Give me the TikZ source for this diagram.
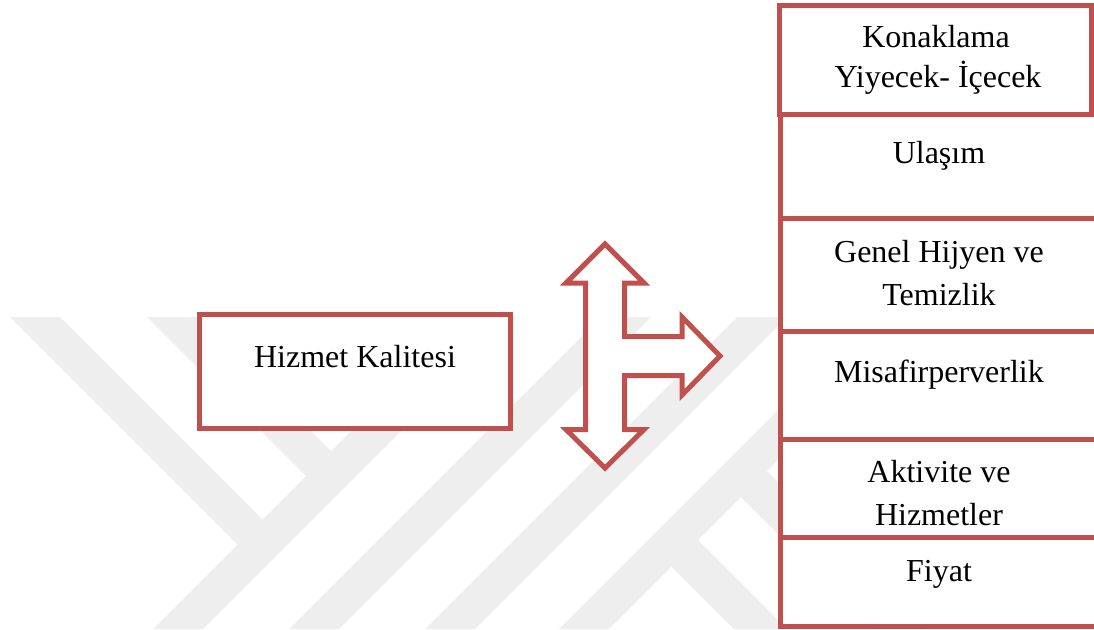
\documentclass[tikz,border=0pt]{standalone}
\usepackage{fontspec}
\setmainfont{Liberation Serif}
\usetikzlibrary{fit}
\definecolor{accred}{HTML}{C0504D}
\definecolor{wmgrey}{HTML}{EEEEEE}
\begin{document}
\begin{tikzpicture}[x=0.5pt,y=-0.5pt,
  box/.style={draw=accred, line width=2.5pt, fill=white, inner sep=0pt},
  lbl/.style={font=\fontsize{16}{20}\selectfont, anchor=base, inner sep=0pt},
  wm/.style={fill=wmgrey, draw=none},
]
\useasboundingbox (0,0) rectangle (1094,629);
\clip (0,0) rectangle (1094,629);
% watermark (faint background logo)
\begin{scope}
\clip (0,317) rectangle (1094,629);
\fill[wm] (10,317) -- (60,317) -- (262.5,519.5) -- (237.5,544.5) -- cycle;
\fill[wm] (147,317) -- (197,317) -- (331,451) -- (306,476) -- cycle;
\fill[wm] (465,317) -- (515,317) -- (203,629) -- (153,629) -- cycle;
\fill[wm] (601,317) -- (651,317) -- (339,629) -- (289,629) -- cycle;
\fill[wm] (737,317) -- (787,317) -- (475,629) -- (425,629) -- cycle;
\fill[wm] (871,317) -- (921,317) -- (609,629) -- (559,629) -- cycle;
\fill[wm] (671.5,566.5) -- (698,540) -- (787,629) -- (734,629) -- cycle;
\fill[wm] (741,497) -- (767,471) -- (925,629) -- (873,629) -- cycle;
\end{scope}
% left box
\coordinate (hk1) at (199.2,314.2);
\coordinate (hk2) at (510.8,428.2);
\node[box, fit=(hk1)(hk2)] (hk) {};
\node[lbl] (hkt) at (355,367) {Hizmet Kalitesi};
% arrow shape
\draw[accred, line width=2.5pt, fill=white, line join=miter]
  (605,244) -- (566,283) -- (585.5,283) -- (585.5,429.5) -- (566,429.5)
  -- (605,468) -- (644,429.5) -- (624.5,429.5) -- (624.5,375.5) -- (682,375.5)
  -- (682,395) -- (720,356) -- (682,317) -- (682,336.5) -- (624.5,336.5)
  -- (624.5,283) -- (644,283) -- cycle;
% right stack
\coordinate (u1) at (780.5,114);   \coordinate (u2) at (1200,218);
\coordinate (g1) at (780.5,218);   \coordinate (g2) at (1200,331.5);
\coordinate (m1) at (780.5,331.5); \coordinate (m2) at (1200,439);
\coordinate (a1) at (780.5,439);   \coordinate (a2) at (1200,537);
\coordinate (f1) at (780.5,537);   \coordinate (f2) at (1200,626);
\coordinate (k1) at (779,5);       \coordinate (k2) at (1091.5,114);
\node[box, fit=(u1)(u2)] (ul) {};
\node[box, fit=(g1)(g2)] (gh) {};
\node[box, fit=(m1)(m2)] (mi) {};
\node[box, fit=(a1)(a2)] (ak) {};
\node[box, fit=(f1)(f2)] (fi) {};
\node[box, fit=(k1)(k2)] (ko) {};
\node[lbl] (kot1) at (936,47) {Konaklama};
\node[lbl] (kot2) at (938,87) {Yiyecek- İçecek};
\node[lbl] (ult) at (939,163) {Ulaşım};
\node[lbl] (ght1) at (939,262) {Genel Hijyen ve};
\node[lbl] (ght2) at (939,305) {Temizlik};
\node[lbl] (mit) at (939,382) {Misafirperverlik};
\node[lbl] (akt1) at (939,482) {Aktivite ve};
\node[lbl] (akt2) at (939,525) {Hizmetler};
\node[lbl] (fyt) at (939,581) {Fiyat};
\end{tikzpicture}
\end{document}
